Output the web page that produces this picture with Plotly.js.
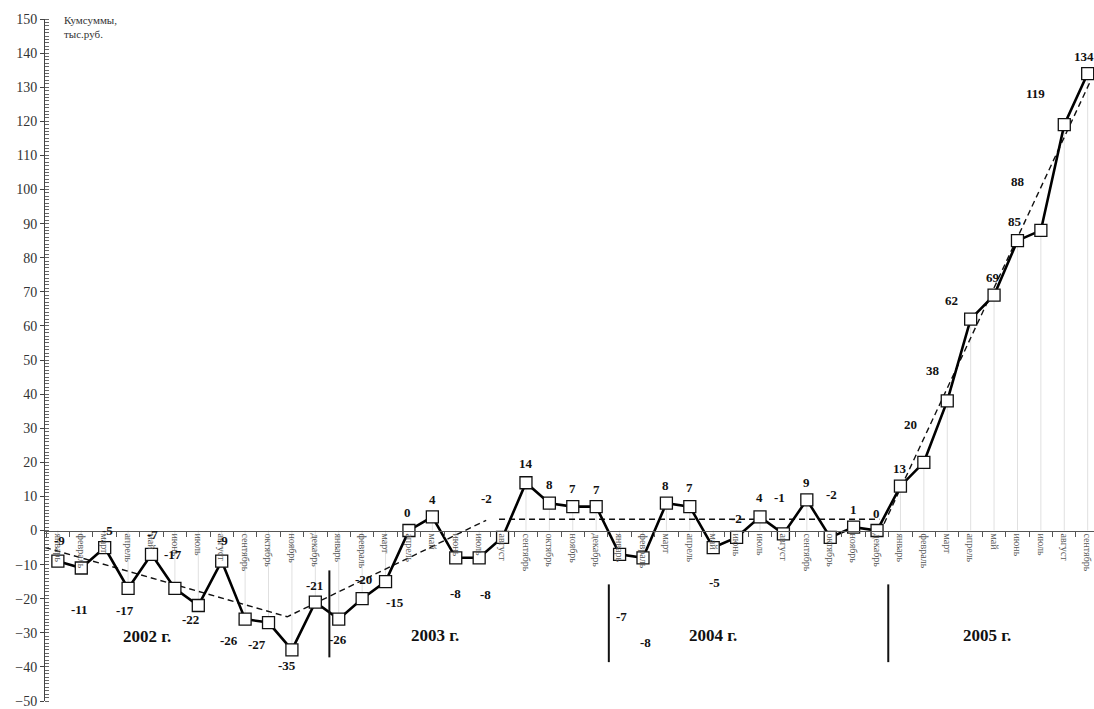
<!DOCTYPE html>
<html>
<head>
<meta charset="utf-8">
<script src="https://cdn.plot.ly/plotly-3.0.1.min.js"></script>
<style>html,body{margin:0;padding:0;background:#fff;}#chart{width:1094px;height:709px;}</style>
</head>
<body>
<div id="chart"></div>
<script>
// ---- data ----
const months = ["январь","февраль","март","апрель","май","июнь","июль","август","сентябрь","октябрь","ноябрь","декабрь"];
const monthLabels = [].concat(months, months, months, months.slice(0, 9));
const values2002 = [-9, -11, -5, -17, -7, -17, -22, -9, -26, -27, -35, -21];
const values2003 = [-26, -20, -15, 0, 4, -8, -8, -2, 14, 8, 7, 7];
const values2004 = [-7, -8, 8, 7, -5, -2, 4, -1, 9, -2, 1, 0];
const values2005 = [13, 20, 38, 62, 69, 85, 88, 119, 134];
const yearLabels = ["2002 г.", "2003 г.", "2004 г.", "2005 г."];
// dashed trend lines (x = month index, y = value)
const trendDownUpX = [-0.55, 9.8, 18.3];
const trendDownUpY = [-5, -25.3, 3];
const trendFlatX = [18.85, 35.1];
const trendFlatY = [3.3, 3.3];
const trendGrowX = [35.3, 44.2];
const trendGrowY = [2, 133];

// ---- styling / placement (not data) ----
const labelDx = [2,-2,3,-3,1,-2,-8,1,-16,-12,-5,-1, -1,1,9,-1,0,0,6,-16,0,0,0,0, 2,3,-1,0,1,0,-1,-4,0,1,0,-1, 0,-13,-14,-19,-1,-2,-23,-29,-4];
const labelDy = [-21,41,-17,22,-20,-34,14,-21,21,22,16,-17, 20,-19,21,-18,-17,36,37,-39,-19,-19,-18,-17, 62,85,-18,-19,35,-19,-19,-36,-17,-43,-18,-17, -18,-38,-30,-19,-18,-19,-49,-31,-17];
const yearPos = [[3.8,-31.2],[16.1,-30.7],[28,-30.7],[39.7,-30.7]];
const sepPos = [[11.6,-11.7,-37.2],[23.54,-15.8,-38.6],[35.48,-15.8,-38.6]];

const values = [].concat(values2002, values2003, values2004, values2005);
const idx = values.map((_, i) => i);
const serif = "Liberation Serif, Times New Roman, serif";

const traces = [
  { // drop lines
    x: idx, y: values, mode: "markers", type: "scatter",
    marker: {opacity: 0, size: 1}, hoverinfo: "skip", showlegend: false,
    error_y: {type: "data", symmetric: false,
      array: values.map(v => v < 0 ? -v : 0),
      arrayminus: values.map(v => v > 0 ? v : 0),
      width: 0, thickness: 1, color: "#e0e0e0"}
  },
  {x: trendDownUpX, y: trendDownUpY, mode: "lines", line: {color: "#111", width: 1.4, dash: "6px,4px"}, showlegend: false},
  {x: trendFlatX, y: trendFlatY, mode: "lines", line: {color: "#111", width: 1.4, dash: "6px,4px"}, showlegend: false},
  {x: trendGrowX, y: trendGrowY, mode: "lines", line: {color: "#111", width: 1.4, dash: "6px,4px"}, showlegend: false},
  {
    x: idx, y: values, mode: "lines+markers", type: "scatter", cliponaxis: false,
    line: {color: "#000", width: 2.6},
    marker: {symbol: "square", size: 12, color: "#fff", line: {color: "#111", width: 1.3}},
    showlegend: false
  }
];

const annotations = values.map((v, i) => ({
  x: i, y: v, xref: "x", yref: "y", text: "<b>" + String(v) + "</b>", showarrow: false,
  xshift: labelDx[i], yshift: -labelDy[i],
  font: {family: serif, size: 13, color: "#111"}
}));
yearLabels.forEach((t, k) => annotations.push({
  x: yearPos[k][0], y: yearPos[k][1], xref: "x", yref: "y", text: "<b>" + t + "</b>", showarrow: false,
  font: {family: serif, size: 17, color: "#111"}
}));
annotations.push({
  x: (62 - 45) / (1094 - 45), y: 1 + (19 - 12) / 682, xref: "paper", yref: "paper",
  text: "Кумсуммы,<br>тыс.руб.", showarrow: false,
  xanchor: "left", yanchor: "top", align: "left",
  font: {family: serif, size: 11, color: "#333"}
});

const shapes = sepPos.map(s => ({
  type: "line", xref: "x", yref: "y", x0: s[0], x1: s[0], y0: s[1], y1: s[2],
  line: {color: "#111", width: 2}
}));

const layout = {
  width: 1094, height: 709,
  margin: {l: 45, r: 0, t: 19, b: 8},
  paper_bgcolor: "#fff", plot_bgcolor: "#fff",
  showlegend: false,
  xaxis: {
    range: [-0.55, 44.27], tickmode: "array", tickvals: idx, ticktext: monthLabels,
    tickangle: 90, ticks: "", showline: true, linecolor: "#555", linewidth: 1,
    anchor: "free", position: 0.25, showgrid: false, zeroline: false,
    ticklabeloverflow: "allow",
    tickfont: {family: serif, size: 10, color: "#555"},
    minor: {tick0: 0.5, dtick: 1, ticks: "outside", ticklen: 5, tickcolor: "#555"}
  },
  yaxis: {
    range: [-50, 150], dtick: 10, ticks: "outside", ticklen: 4, tickcolor: "#444",
    showline: true, linecolor: "#444", linewidth: 1, showgrid: false, zeroline: false,
    ticklabeloverflow: "allow",
    tickfont: {family: serif, size: 14, color: "#333"},
    minor: {dtick: 1, ticks: "inside", ticklen: 4, tickcolor: "#666"}
  },
  annotations: annotations,
  shapes: shapes
};

Plotly.newPlot("chart", traces, layout, {staticPlot: true});
</script>
</body>
</html>
